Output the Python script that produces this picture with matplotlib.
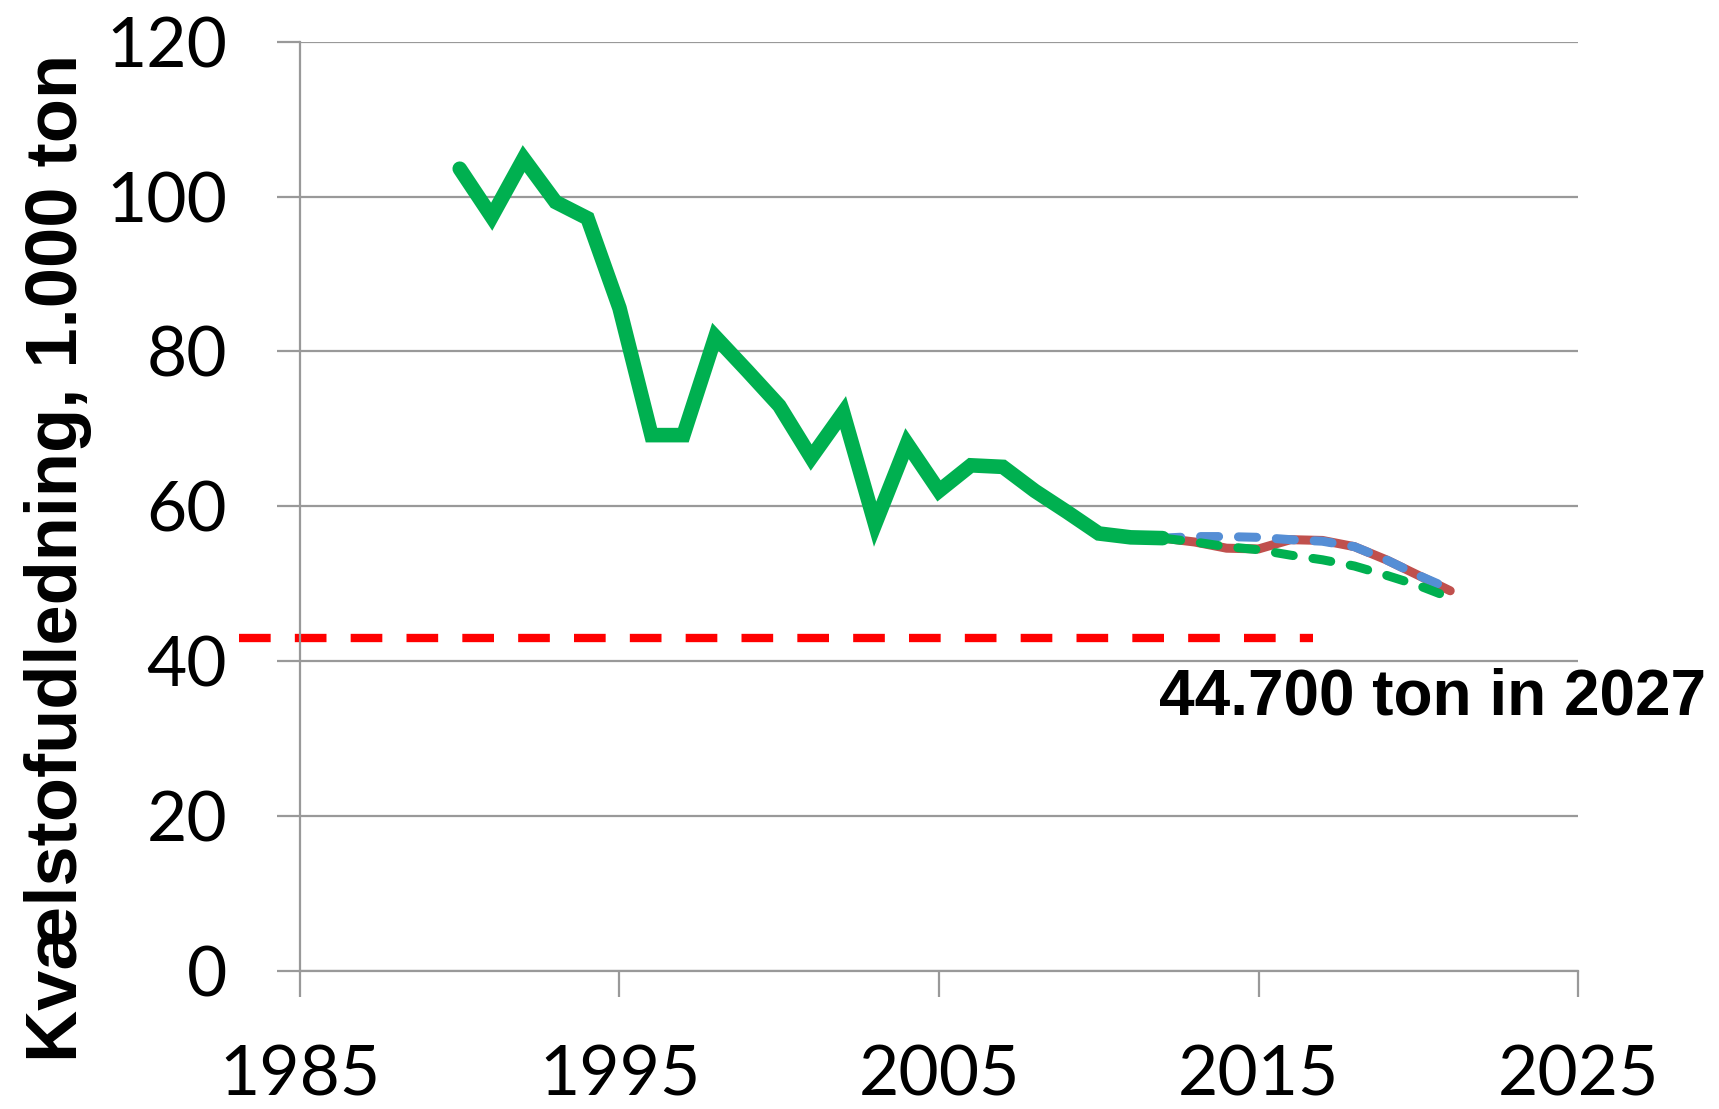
import matplotlib.pyplot as plt
import numpy as np

# historisk udledning (1.000 ton)
years = [1990, 1991, 1992, 1993, 1994, 1995, 1996, 1997, 1998, 1999, 2000,
         2001, 2002, 2003, 2004, 2005, 2006, 2007, 2008, 2009, 2010, 2011, 2012]
values = [103.6, 97.4, 104.9, 99.3, 97.2, 85.6, 69.2, 69.2, 81.9, 77.5, 73.0,
          66.3, 72.1, 57.7, 68.1, 62.0, 65.3, 65.1, 62.0, 59.3, 56.5, 56.0, 55.9]

# fremskrivninger
proj_years = [2012, 2013, 2014, 2015, 2016, 2017, 2018, 2019, 2020, 2021]
proj_red = [55.9, 55.4, 54.6, 54.5, 55.7, 55.6, 54.8, 53.1, 51.1, 49.1]
proj_blue = [55.9, 56.1, 56.1, 56.0, 55.7, 55.5, 54.8, 53.1, 51.1, 49.3]
proj_green = [55.9, 55.4, 54.8, 54.4, 53.7, 53.1, 52.3, 51.1, 49.8, 48.2]

target = 43.0
target_x = [1983.1, 2016.7]

xticks = [1985, 1995, 2005, 2015, 2025]
yticks = [0, 20, 40, 60, 80, 100, 120]

fig = plt.figure(figsize=(17.19, 11.09), dpi=100)
ax = fig.add_axes([0.1745, 0.1244, 0.918 - 0.1745, 0.9624 - 0.1244])

grey = '#999999'
ax.set_xlim(1985, 2025)
ax.set_ylim(0, 120)
ax.set_yticks(yticks)
ax.set_xticks(xticks)
ax.grid(axis='y', color=grey, lw=1.6)
ax.set_axisbelow(True)
for s in ['top', 'right']:
    ax.spines[s].set_visible(False)
for s in ['left', 'bottom']:
    ax.spines[s].set_color(grey)
    ax.spines[s].set_linewidth(1.6)
ax.tick_params(axis='y', direction='out', length=16.5, width=1.6, color=grey, pad=36)
ax.tick_params(axis='x', direction='out', length=19, width=1.6, color=grey, pad=34)
for lab in ax.get_xticklabels() + ax.get_yticklabels():
    lab.set_fontfamily('Lato')
    lab.set_fontsize(50)

# målet
ax.plot(target_x, [target, target], color='#FF0000', lw=6, dashes=(3.8, 2.9),
        dash_capstyle='butt', clip_on=False)

# fremskrivninger
ax.plot(proj_years, proj_red, color='#C0504D', lw=6.5, solid_capstyle='round')
ax.plot(proj_years, proj_blue, color='#558ED5', lw=6.5, dashes=(2.0, 2.2),
        dash_capstyle='round')
ax.plot(proj_years, proj_green, color='#00B050', lw=6.5, dashes=(2.0, 2.2),
        dash_capstyle='round')

# historisk
ax.plot(years, values, color='#00B050', lw=10.5, solid_capstyle='round',
        solid_joinstyle='miter')

ax.text(2011.9, 35.3, '44.700 ton in 2027', fontsize=46, fontweight='bold',
        family='Liberation Sans', ha='left', va='center', clip_on=False)

fig.text(0.034, 0.497, 'Kvælstofudledning, 1.000 ton', rotation=90,
         fontsize=52, fontweight='bold', family='Liberation Sans',
         ha='center', va='center')

fig.savefig('out.png', dpi=100)
